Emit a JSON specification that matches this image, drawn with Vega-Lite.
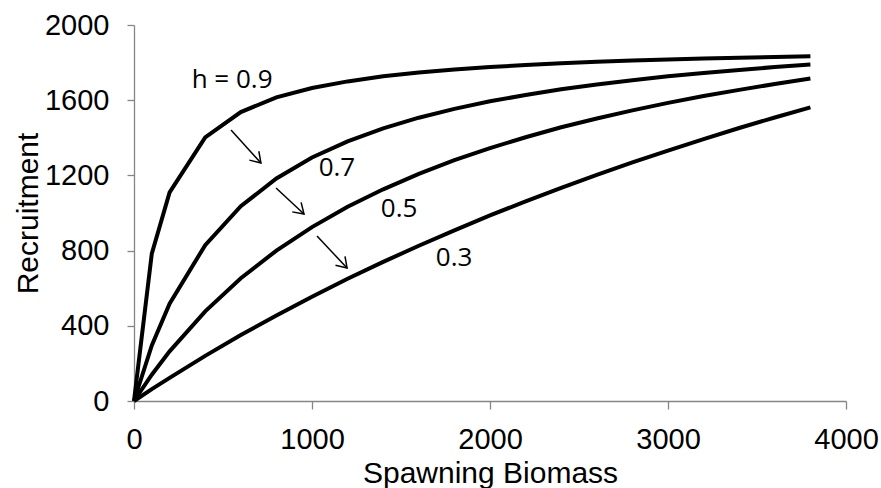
{
  "$schema": "https://vega.github.io/schema/vega-lite/v6.json",
  "width": 712,
  "height": 376,
  "autosize": {"type": "none"},
  "padding": {"left": 134, "top": 25, "right": 35, "bottom": 87},
  "background": "white",
  "config": {
    "view": {"stroke": null},
    "axis": {
      "grid": false, "domainColor": "#868686", "tickColor": "#868686", "domainWidth": 1.3, "tickWidth": 1.3,
      "labelFont": "Liberation Sans", "labelFontSize": 29, "labelColor": "black", "format": "d",
      "titleFont": "Liberation Sans", "titleFontSize": 30, "titleFontWeight": "normal", "titleColor": "black",
      "labelFlush": false, "labelOverlap": false
    },
    "axisX": {"tickSize": 8, "labelPadding": 16, "titlePadding": 4},
    "axisY": {"tickSize": 7, "labelPadding": 18, "titlePadding": 1}
  },
  "datasets": {
    "curves": [
      {"h": "0.9", "S": 0, "R": 0}, {"h": "0.9", "S": 100, "R": 784}, {"h": "0.9", "S": 200, "R": 1110}, {"h": "0.9", "S": 400, "R": 1402}, {"h": "0.9", "S": 600, "R": 1537}, {"h": "0.9", "S": 800, "R": 1615}, {"h": "0.9", "S": 1000, "R": 1665}, {"h": "0.9", "S": 1200, "R": 1700}, {"h": "0.9", "S": 1400, "R": 1727}, {"h": "0.9", "S": 1600, "R": 1747}, {"h": "0.9", "S": 1800, "R": 1763}, {"h": "0.9", "S": 2000, "R": 1776}, {"h": "0.9", "S": 2200, "R": 1787}, {"h": "0.9", "S": 2400, "R": 1796}, {"h": "0.9", "S": 2600, "R": 1804}, {"h": "0.9", "S": 2800, "R": 1811}, {"h": "0.9", "S": 3000, "R": 1816}, {"h": "0.9", "S": 3200, "R": 1822}, {"h": "0.9", "S": 3400, "R": 1826}, {"h": "0.9", "S": 3600, "R": 1830}, {"h": "0.9", "S": 3800, "R": 1834},
      {"h": "0.7", "S": 0, "R": 0}, {"h": "0.7", "S": 100, "R": 296}, {"h": "0.7", "S": 200, "R": 518}, {"h": "0.7", "S": 400, "R": 829}, {"h": "0.7", "S": 600, "R": 1036}, {"h": "0.7", "S": 800, "R": 1184}, {"h": "0.7", "S": 1000, "R": 1295}, {"h": "0.7", "S": 1200, "R": 1381}, {"h": "0.7", "S": 1400, "R": 1450}, {"h": "0.7", "S": 1600, "R": 1507}, {"h": "0.7", "S": 1800, "R": 1554}, {"h": "0.7", "S": 2000, "R": 1594}, {"h": "0.7", "S": 2200, "R": 1628}, {"h": "0.7", "S": 2400, "R": 1658}, {"h": "0.7", "S": 2600, "R": 1684}, {"h": "0.7", "S": 2800, "R": 1706}, {"h": "0.7", "S": 3000, "R": 1727}, {"h": "0.7", "S": 3200, "R": 1745}, {"h": "0.7", "S": 3400, "R": 1761}, {"h": "0.7", "S": 3600, "R": 1776}, {"h": "0.7", "S": 3800, "R": 1790},
      {"h": "0.5", "S": 0, "R": 0}, {"h": "0.5", "S": 100, "R": 140}, {"h": "0.5", "S": 200, "R": 264}, {"h": "0.5", "S": 400, "R": 477}, {"h": "0.5", "S": 600, "R": 653}, {"h": "0.5", "S": 800, "R": 800}, {"h": "0.5", "S": 1000, "R": 925}, {"h": "0.5", "S": 1200, "R": 1033}, {"h": "0.5", "S": 1400, "R": 1126}, {"h": "0.5", "S": 1600, "R": 1208}, {"h": "0.5", "S": 1800, "R": 1281}, {"h": "0.5", "S": 2000, "R": 1345}, {"h": "0.5", "S": 2200, "R": 1403}, {"h": "0.5", "S": 2400, "R": 1456}, {"h": "0.5", "S": 2600, "R": 1503}, {"h": "0.5", "S": 2800, "R": 1546}, {"h": "0.5", "S": 3000, "R": 1586}, {"h": "0.5", "S": 3200, "R": 1622}, {"h": "0.5", "S": 3400, "R": 1655}, {"h": "0.5", "S": 3600, "R": 1686}, {"h": "0.5", "S": 3800, "R": 1715},
      {"h": "0.3", "S": 0, "R": 0}, {"h": "0.3", "S": 100, "R": 63}, {"h": "0.3", "S": 200, "R": 123}, {"h": "0.3", "S": 400, "R": 240}, {"h": "0.3", "S": 600, "R": 351}, {"h": "0.3", "S": 800, "R": 455}, {"h": "0.3", "S": 1000, "R": 555}, {"h": "0.3", "S": 1200, "R": 650}, {"h": "0.3", "S": 1400, "R": 740}, {"h": "0.3", "S": 1600, "R": 826}, {"h": "0.3", "S": 1800, "R": 908}, {"h": "0.3", "S": 2000, "R": 987}, {"h": "0.3", "S": 2200, "R": 1062}, {"h": "0.3", "S": 2400, "R": 1134}, {"h": "0.3", "S": 2600, "R": 1203}, {"h": "0.3", "S": 2800, "R": 1269}, {"h": "0.3", "S": 3000, "R": 1332}, {"h": "0.3", "S": 3200, "R": 1393}, {"h": "0.3", "S": 3400, "R": 1452}, {"h": "0.3", "S": 3600, "R": 1508}, {"h": "0.3", "S": 3800, "R": 1562}
    ],
    "arrows": [
      {"x1": 545, "y1": 1441, "x2": 713, "y2": 1266, "ang": 47},
      {"x1": 798, "y1": 1133, "x2": 955, "y2": 995, "ang": 43},
      {"x1": 1028, "y1": 878, "x2": 1197, "y2": 707, "ang": 47}
    ],
    "labels": [
      {"x": 551, "y": 1707, "t": "h = 0.9"},
      {"x": 1140, "y": 1239, "t": "0.7"},
      {"x": 1489, "y": 1021, "t": "0.5"},
      {"x": 1798, "y": 761, "t": "0.3"}
    ]
  },
  "layer": [
    {
      "data": {"name": "curves"},
      "mark": {"type": "line", "color": "black", "strokeWidth": 4, "strokeJoin": "miter"},
      "encoding": {
        "x": {
          "field": "S", "type": "quantitative", "title": "Spawning Biomass",
          "scale": {"domain": [0, 4000], "nice": false, "zero": false},
          "axis": {"values": [0, 1000, 2000, 3000, 4000]}
        },
        "y": {
          "field": "R", "type": "quantitative", "title": "Recruitment",
          "scale": {"domain": [0, 2000], "nice": false},
          "axis": {"values": [0, 400, 800, 1200, 1600, 2000]}
        },
        "detail": {"field": "h", "type": "nominal"}
      }
    },
    {
      "data": {"name": "arrows"},
      "mark": {"type": "rule", "color": "black", "strokeWidth": 1.5},
      "encoding": {
        "x": {"field": "x1", "type": "quantitative", "title": "Spawning Biomass"},
        "y": {"field": "y1", "type": "quantitative", "title": "Recruitment"},
        "x2": {"field": "x2", "title": "Spawning Biomass"},
        "y2": {"field": "y2", "title": "Recruitment"}
      }
    },
    {
      "data": {"name": "arrows"},
      "mark": {"type": "point", "shape": "M -1 -0.65 L 0 0 L -1 0.65", "filled": false, "stroke": "black", "strokeWidth": 1.5, "size": 400, "opacity": 1},
      "encoding": {
        "x": {"field": "x2", "type": "quantitative", "title": "Spawning Biomass"},
        "y": {"field": "y2", "type": "quantitative", "title": "Recruitment"},
        "angle": {"field": "ang", "type": "quantitative", "scale": null}
      }
    },
    {
      "data": {"name": "labels"},
      "mark": {"type": "text", "font": "Open Sans", "fontSize": 26, "color": "black", "align": "center", "baseline": "middle"},
      "encoding": {
        "x": {"field": "x", "type": "quantitative", "title": "Spawning Biomass"},
        "y": {"field": "y", "type": "quantitative", "title": "Recruitment"},
        "text": {"field": "t", "type": "nominal"}
      }
    }
  ]
}
